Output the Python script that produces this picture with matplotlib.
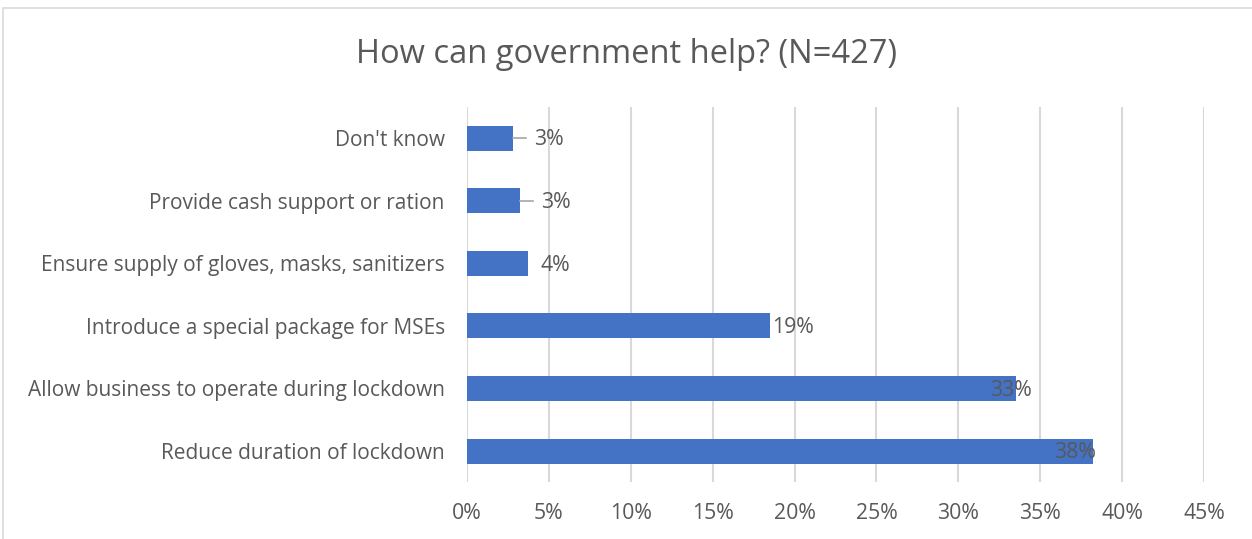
import matplotlib
matplotlib.use("Agg")
import matplotlib.pyplot as plt
from matplotlib.patches import Rectangle

# data, bottom to top as drawn
categories = ["Reduce duration of lockdown",
              "Allow business to operate during lockdown",
              "Introduce a special package for MSEs",
              "Ensure supply of gloves, masks, sanitizers",
              "Provide cash support or ration",
              "Don't know"]
values = [38.2, 33.5, 18.5, 3.75, 3.25, 2.8]
value_labels = ["38%", "33%", "19%", "4%", "3%", "3%"]
ticks = [0, 5, 10, 15, 20, 25, 30, 35, 40, 45]

# label offsets from bar end (percent units) and whether a leader line is drawn
label_dx = [-2.35, -1.55, 0.1, 0.75, 1.3, 1.3]
leader = [False, False, False, False, True, True]

text_col = "#595959"
bar_col = "#4472C4"
grid_col = "#D9D9D9"
font = "Open Sans"
fs = 15

fig = plt.figure(figsize=(12.52, 5.39), dpi=100)
fig.patches.append(Rectangle((3 / 1252, -0.1), 1.2, (539 - 8) / 539 + 0.1,
                             transform=fig.transFigure, fill=False,
                             edgecolor=grid_col, linewidth=1.2))

ax = fig.add_axes([467 / 1252, 0.105, (1204 - 467) / 1252, 0.697])
y = range(len(categories))
ax.barh(y, values, height=0.4, color=bar_col, zorder=3)

for i, v in enumerate(values):
    if leader[i]:
        ax.plot([v, v + label_dx[i] - 0.5], [i, i], color="#A6A6A6",
                linewidth=1.2, zorder=4)
    ax.text(v + label_dx[i], i - 0.03, value_labels[i], va="center", ha="left",
            fontsize=fs + 0.3, color=text_col, family=font, zorder=5)

ax.set_xlim(0, 45)
ax.set_ylim(-0.5, len(categories) - 0.5)
ax.set_xticks(ticks)
ax.set_xticklabels([f"{t}%" for t in ticks], family=font, fontsize=fs + 0.3,
                   color=text_col)
ax.set_yticks(list(y))
ax.set_yticklabels(categories, family=font, fontsize=fs, color=text_col)
ax.tick_params(axis="both", length=0)
ax.tick_params(axis="x", pad=15)
ax.tick_params(axis="y", pad=16)
ax.xaxis.grid(True, color=grid_col, linewidth=1.5, zorder=0)
for s in ax.spines.values():
    s.set_visible(False)

fig.text(0.5, 0.898, "How can government help? (N=427)", ha="center",
         va="center", fontsize=23.5, color=text_col, family=font)

fig.savefig("out.png", dpi=100)
